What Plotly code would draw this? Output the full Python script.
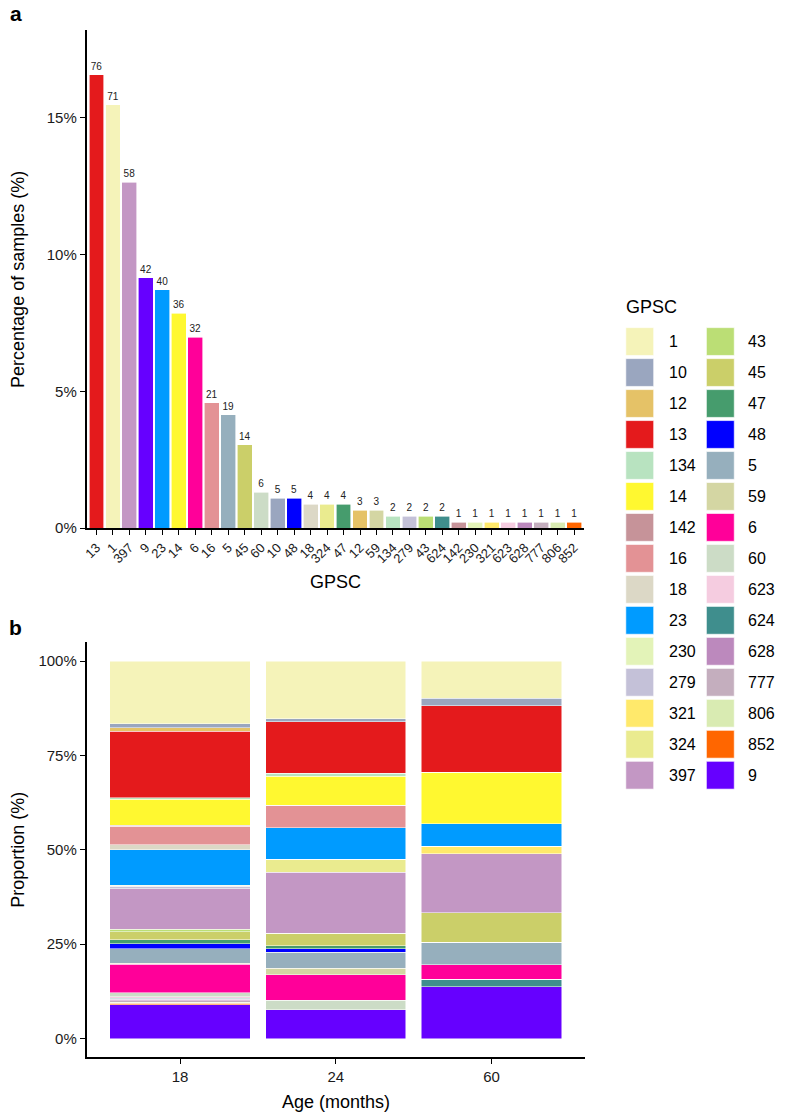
import plotly.graph_objects as go

W, H = 785, 1120

# ---------------- data ----------------
# Panel a: GPSC counts ordered by frequency
gpsc_order = ["13", "1", "397", "9", "23", "14", "6", "16", "5", "45", "60", "10", "48", "18",
              "324", "47", "12", "59", "134", "279", "43", "624", "142", "230", "321", "623",
              "628", "777", "806", "852"]
gpsc_counts = [76, 71, 58, 42, 40, 36, 32, 21, 19, 14, 6, 5, 5, 4, 4, 4, 3, 3, 2, 2, 2, 2,
               1, 1, 1, 1, 1, 1, 1, 1]

# Legend / factor levels (alphabetical) and colours
legend_levels = ["1", "10", "12", "13", "134", "14", "142", "16", "18", "23", "230", "279",
                 "321", "324", "397", "43", "45", "47", "48", "5", "59", "6", "60", "623",
                 "624", "628", "777", "806", "852", "9"]
level_colors = ["#F5F3B9", "#9AA6BF", "#E5C267", "#E41A1C", "#B8E3C0", "#FFF830", "#C69399",
                "#E39295", "#DCD8C6", "#009BFF", "#E3F3B8", "#C4C1D8", "#FFE96B", "#EAEB8F",
                "#C397C4", "#BBDE75", "#CBCF69", "#469C6D", "#0000FF", "#96AFBD", "#D4D6A3",
                "#FF0099", "#CCDCC6", "#F5CCE0", "#3F8E8D", "#BC89BD", "#C4AEBE", "#D9EBB2",
                "#FF6600", "#6600FF"]

# Panel b: counts per age group (in legend_levels order)
ages = ["18", "24", "60"]
counts_age18 = [48, 3, 3, 51, 1, 20, 1, 14, 4, 27, 1, 2, 0, 0, 31, 2, 6, 3, 4, 11, 1, 22, 3,
                1, 1, 1, 1, 1, 1, 26]
counts_age24 = [18, 1, 0, 16, 1, 9, 0, 7, 0, 10, 0, 0, 0, 4, 19, 0, 4, 1, 1, 5, 2, 8, 3,
                0, 0, 0, 0, 0, 0, 9]
counts_age60 = [5, 1, 0, 9, 0, 7, 0, 0, 0, 3, 0, 0, 1, 0, 8, 0, 4, 0, 0, 3, 0, 2, 0,
                0, 1, 0, 0, 0, 0, 7]

y_ticks_a = [0, 5, 10, 15]
y_ticks_b = [0, 25, 50, 75, 100]

# ---------------- helpers ----------------
FONT = "Liberation Sans, Arial, Helvetica, sans-serif"
color_of = dict(zip(legend_levels, level_colors))


def px(xp):
    return xp / W


def py(yp):
    return 1 - yp / H


fig = go.Figure()

# Panel a bars
total = sum(gpsc_counts)
pct_a = [100 * c / total for c in gpsc_counts]
fig.add_trace(go.Bar(
    x=gpsc_order, y=pct_a, width=0.9,
    marker=dict(color=[color_of[g] for g in gpsc_order], line=dict(color="white", width=0.6)),
    text=[str(c) for c in gpsc_counts], textposition="outside", cliponaxis=False,
    constraintext="none", textfont=dict(size=10, color="#222222", family=FONT),
    xaxis="x", yaxis="y", showlegend=False))

# Panel b stacked bars (first level on top -> add in reverse)
age_counts = [counts_age18, counts_age24, counts_age60]
age_tot = [sum(c) for c in age_counts]
for i in reversed(range(len(legend_levels))):
    vals = [100 * age_counts[a][i] / age_tot[a] for a in range(3)]
    fig.add_trace(go.Bar(
        x=ages, y=vals, width=0.9, name=legend_levels[i],
        marker=dict(color=level_colors[i], line=dict(color="white", width=0.5)),
        xaxis="x2", yaxis="y2", showlegend=False))

line_common = dict(showline=True, linecolor="black", linewidth=1.6, ticks="outside",
                   ticklen=5, tickwidth=1.4, tickcolor="black", showgrid=False,
                   zeroline=False)
tickfont = dict(size=15, color="#1a1a1a", family=FONT)

fig.update_layout(
    width=W, height=H, autosize=False,
    margin=dict(l=0, r=0, t=0, b=0),
    paper_bgcolor="white", plot_bgcolor="white",
    barmode="stack",
    font=dict(family=FONT, color="black"),
    xaxis=dict(domain=[px(83), px(583)], range=[-0.6, 29.6], type="category",
               categoryorder="array", categoryarray=gpsc_order, anchor="y",
               tickmode="array", tickvals=gpsc_order, ticktext=gpsc_order,
               tickangle=-45, tickfont=dict(size=13, color="#1a1a1a", family=FONT),
               **line_common),
    yaxis=dict(domain=[py(532), py(30)], range=[0, 18.2], anchor="x",
               tickvals=y_ticks_a, ticktext=[f"{v}%" for v in y_ticks_a],
               tickfont=tickfont, **line_common),
    xaxis2=dict(domain=[px(83), px(584)], range=[-0.6, 2.6], type="category",
                categoryorder="array", categoryarray=ages, anchor="y2",
                tickfont=tickfont, **line_common),
    yaxis2=dict(domain=[py(1065), py(647)], range=[-5, 105], anchor="x2",
                tickvals=y_ticks_b, ticktext=[f"{v}%" for v in y_ticks_b],
                tickfont=tickfont, **line_common),
)


def label(text, x, y, size=18, angle=0, xanchor="center"):
    return dict(text=text, x=px(x), y=py(y), xref="paper", yref="paper",
                xanchor=xanchor, yanchor="middle", textangle=angle, showarrow=False,
                font=dict(size=size, family=FONT, color="black"))


ann = [
    label("<b>a</b>", 12, 14, size=21),
    label("<b>b</b>", 12, 632, size=21),
    label("GPSC", 333, 586),
    label("Percentage of samples (%)", 14, 281, angle=-90),
    label("Proportion (%)", 14, 856, angle=-90),
    label("Age (months)", 334, 1110),
    label("GPSC", 623, 309, xanchor="left"),
]

# Manual two-column legend built from the level / colour arrays
shapes = []
n_per_col = 15
key_x = [625, 706]
txt_x = [666, 746]
row0, pitch, ks = 344.0, 31.2, 28
for i, lev in enumerate(legend_levels):
    col, row = divmod(i, n_per_col)
    cy = row0 + row * pitch
    shapes.append(dict(type="rect", xref="paper", yref="paper",
                       x0=px(key_x[col]), x1=px(key_x[col] + ks),
                       y0=py(cy + ks / 2), y1=py(cy - ks / 2),
                       fillcolor=level_colors[i], line=dict(color="white", width=0.6)))
    ann.append(label(lev, txt_x[col], cy, size=16, xanchor="left"))

fig.update_layout(annotations=ann, shapes=shapes)
fig.write_html("out.html")
